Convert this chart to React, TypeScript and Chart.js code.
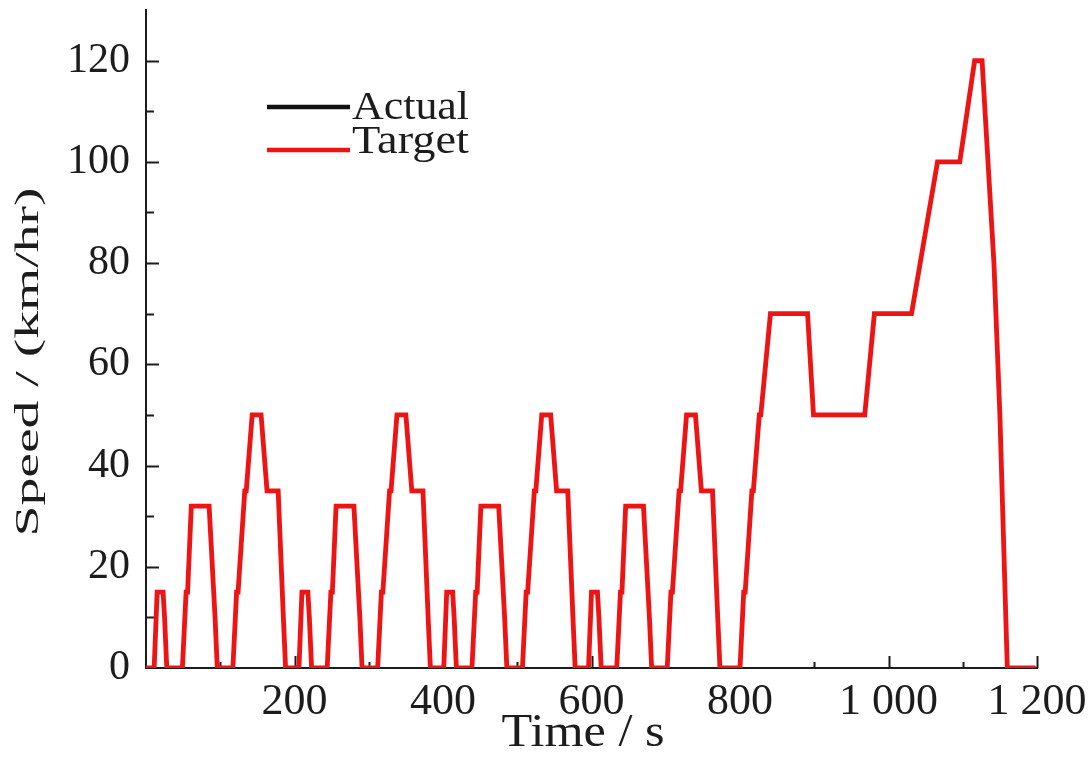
import React, { useEffect, useRef } from "react";
import { Chart, registerables } from "chart.js";

Chart.register(...registerables);

// NEDC-like speed profile (time in s, speed in km/h)
const timeS = [
  0, 11, 15, 23, 25, 28, 49, 54, 56, 61, 85, 93, 96, 117, 122, 124, 133, 135, 143, 155, 163, 176, 178, 185, 188,
  206, 210, 218, 220, 223, 244, 249, 251, 256, 280, 288, 291, 312, 317, 319, 328, 330, 338, 350, 358, 371, 373, 380, 383,
  401, 405, 413, 415, 418, 439, 444, 446, 451, 475, 483, 486, 507, 512, 514, 523, 525, 533, 545, 553, 566, 568, 575, 578,
  596, 600, 608, 610, 613, 634, 639, 641, 646, 670, 678, 681, 702, 707, 709, 718, 720, 728, 740, 748, 761, 763, 770, 773,
  800, 805, 807, 816, 818, 826, 828, 841, 891, 899, 968, 981, 1031, 1066, 1096, 1116, 1126, 1142, 1150, 1160, 1198,
];

const targetSpeed = [
  0, 0, 15, 15, 10, 0, 0, 15, 15, 32, 32, 10, 0, 0, 15, 15, 35, 35, 50, 50, 35, 35, 35, 10, 0,
  0, 15, 15, 10, 0, 0, 15, 15, 32, 32, 10, 0, 0, 15, 15, 35, 35, 50, 50, 35, 35, 35, 10, 0,
  0, 15, 15, 10, 0, 0, 15, 15, 32, 32, 10, 0, 0, 15, 15, 35, 35, 50, 50, 35, 35, 35, 10, 0,
  0, 15, 15, 10, 0, 0, 15, 15, 32, 32, 10, 0, 0, 15, 15, 35, 35, 50, 50, 35, 35, 35, 10, 0,
  0, 15, 15, 35, 35, 50, 50, 70, 70, 50, 50, 70, 70, 100, 100, 120, 120, 80, 50, 0, 0,
];

const actualSpeed = [
  0, 0, 15, 15, 10, 0, 0, 15, 15, 32, 32, 10, 0, 0, 15, 15, 35, 35, 50, 50, 35, 35, 35, 10, 0,
  0, 15, 15, 10, 0, 0, 15, 15, 32, 32, 10, 0, 0, 15, 15, 35, 35, 50, 50, 35, 35, 35, 10, 0,
  0, 15, 15, 10, 0, 0, 15, 15, 32, 32, 10, 0, 0, 15, 15, 35, 35, 50, 50, 35, 35, 35, 10, 0,
  0, 15, 15, 10, 0, 0, 15, 15, 32, 32, 10, 0, 0, 15, 15, 35, 35, 50, 50, 35, 35, 35, 10, 0,
  0, 15, 15, 35, 35, 50, 50, 70, 70, 50, 50, 70, 70, 100, 100, 120, 120, 80, 50, 0, 0,
];

const seriesLabels = ["Actual", "Target"];
const xTickValues = [200, 400, 600, 800, 1000, 1200];
const xTickLabels = ["200", "400", "600", "800", "1 000", "1 200"];
const yTickValues = [0, 20, 40, 60, 80, 100, 120];
const yTickLabels = ["0", "20", "40", "60", "80", "100", "120"];
const xTitle = "Time / s";
const yTitle = "Speed / (km/hr)";

const W = 1091;
const H = 764;
const RED = "#ee1414";
const BLACK = "#111111";
const INK = "#1c1c1c";
const SERIF = "'Liberation Serif', 'Times New Roman', serif";

const decorPlugin = {
  id: "decor",
  beforeDraw(chart: any) {
    const ctx = chart.ctx;
    ctx.save();
    ctx.fillStyle = "#ffffff";
    ctx.fillRect(0, 0, chart.width, chart.height);
    ctx.restore();
  },
  beforeDatasetsDraw(chart: any) {
    const ctx = chart.ctx;
    const xs = chart.scales.x;
    const ys = chart.scales.y;
    const { left, bottom } = chart.chartArea;
    ctx.save();
    ctx.strokeStyle = INK;
    ctx.lineWidth = 2;
    ctx.beginPath();
    for (let v = 10; v <= 120; v += 10) {
      const y = Math.round(ys.getPixelForValue(v)) + 0.5;
      const len = v % 20 === 0 ? 13 : 8;
      ctx.moveTo(left, y);
      ctx.lineTo(left + len, y);
    }
    for (let v = 100; v <= 1200; v += 100) {
      const x = Math.round(xs.getPixelForValue(v)) + 0.5;
      const len = v % 200 === 0 ? 12 : 6;
      ctx.moveTo(x, bottom);
      ctx.lineTo(x, bottom - len);
    }
    ctx.stroke();
    ctx.restore();
  },
  afterDraw(chart: any) {
    const ctx = chart.ctx;
    const ds = chart.data.datasets;
    ctx.save();
    // legend
    const legendRows = [
      { label: ds[0].label, color: ds[0].borderColor, lineY: 107, textY: 119 },
      { label: ds[1].label, color: ds[1].borderColor, lineY: 150, textY: 153 },
    ];
    ctx.textAlign = "left";
    ctx.textBaseline = "alphabetic";
    for (const r of legendRows) {
      ctx.strokeStyle = r.color;
      ctx.lineWidth = 4.5;
      ctx.beginPath();
      ctx.moveTo(267, r.lineY);
      ctx.lineTo(350, r.lineY);
      ctx.stroke();
      ctx.fillStyle = INK;
      ctx.font = `40px ${SERIF}`;
      const w = ctx.measureText(r.label).width;
      ctx.save();
      ctx.translate(352, r.textY);
      ctx.scale(117 / w, 1);
      ctx.fillText(r.label, 0, 0);
      ctx.restore();
    }
    // x title
    ctx.font = `46px ${SERIF}`;
    const xw = ctx.measureText(xTitle).width;
    ctx.save();
    ctx.translate(583, 746);
    ctx.scale(163 / xw, 1);
    ctx.textAlign = "center";
    ctx.fillText(xTitle, 0, 0);
    ctx.restore();
    // y title
    ctx.font = `33px ${SERIF}`;
    const yw = ctx.measureText(yTitle).width;
    ctx.save();
    ctx.translate(38, 362);
    ctx.rotate(-Math.PI / 2);
    ctx.scale(349 / yw, 1);
    ctx.textAlign = "center";
    ctx.fillText(yTitle, 0, 0);
    ctx.restore();
    ctx.restore();
  },
};

export default function App() {
  const ref = useRef<HTMLCanvasElement | null>(null);

  useEffect(() => {
    document.body.style.margin = "0";
    const canvas = ref.current;
    if (!canvas) return;

    const targetData = timeS.map((t, i) => ({ x: t, y: targetSpeed[i] }));
    const actualData = timeS.map((t, i) => ({ x: t, y: actualSpeed[i] }));

    const chart = new Chart(canvas, {
      type: "line",
      data: {
        datasets: [
          {
            label: seriesLabels[0],
            data: actualData,
            borderColor: BLACK,
            borderWidth: 3,
            pointRadius: 0,
            tension: 0,
            order: 2,
          },
          {
            label: seriesLabels[1],
            data: targetData,
            borderColor: RED,
            borderWidth: 4.8,
            pointRadius: 0,
            tension: 0,
            order: 1,
          },
        ],
      },
      options: {
        responsive: false,
        animation: false,
        devicePixelRatio: 1,
        layout: { padding: { left: 0, right: 54, top: 10, bottom: 0 } },
        plugins: { legend: { display: false }, tooltip: { enabled: false } },
        scales: {
          x: {
            type: "linear",
            min: 0,
            max: 1200,
            grid: { display: false, drawTicks: false },
            border: { display: true, color: INK, width: 2 },
            ticks: {
              includeBounds: false,
              font: { family: SERIF, size: 44 },
              color: INK,
              padding: 8,
              maxRotation: 0,
              autoSkip: false,
              callback: (v: any) => {
                const i = xTickValues.indexOf(Number(v));
                return i >= 0 ? xTickLabels[i] : "";
              },
            },
            afterBuildTicks: (scale: any) => {
              scale.ticks = xTickValues.map((v) => ({ value: v }));
            },
            afterFit: (scale: any) => {
              scale.height = 96;
              scale.paddingLeft = 0;
              scale.paddingRight = 0;
            },
          },
          y: {
            type: "linear",
            min: 0,
            max: 130,
            grid: { display: false, drawTicks: false },
            border: { display: true, color: INK, width: 2 },
            ticks: {
              includeBounds: false,
              font: { family: SERIF, size: 42 },
              color: INK,
              padding: 16,
              autoSkip: false,
              callback: (v: any) => {
                const i = yTickValues.indexOf(Number(v));
                return i >= 0 ? yTickLabels[i] : "";
              },
            },
            afterBuildTicks: (scale: any) => {
              scale.ticks = yTickValues.map((v) => ({ value: v }));
            },
            afterFit: (scale: any) => {
              scale.width = 146;
              scale.paddingTop = 0;
              scale.paddingBottom = 0;
            },
          },
        },
      },
      plugins: [decorPlugin],
    });

    return () => chart.destroy();
  }, []);

  return <canvas ref={ref} width={W} height={H} style={{ display: "block" }} />;
}
